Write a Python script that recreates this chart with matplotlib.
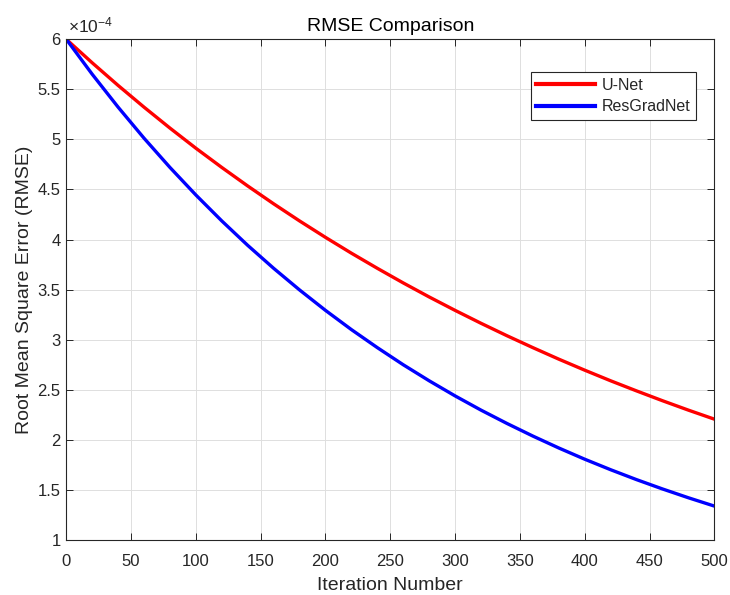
import matplotlib
matplotlib.use("Agg")
import matplotlib.pyplot as plt
from matplotlib.ticker import FormatStrFormatter

plt.rcParams['font.family'] = ['Liberation Sans', 'DejaVu Sans']
plt.rcParams['mathtext.fontset'] = 'custom'
plt.rcParams['mathtext.rm'] = 'Liberation Sans'
plt.rcParams['mathtext.it'] = 'Liberation Sans:italic'

iterations = [0, 20, 40, 60, 80, 100, 120, 140, 160, 180, 200, 220, 240,
              260, 280, 300, 320, 340, 360, 380, 400, 420, 440, 460, 480, 500]
# RMSE values in units of 1e-4
unet = [6.000, 5.765, 5.539, 5.322, 5.113, 4.912, 4.720, 4.535, 4.357,
        4.186, 4.022, 3.864, 3.713, 3.567, 3.427, 3.293, 3.164, 3.040,
        2.921, 2.806, 2.696, 2.590, 2.489, 2.391, 2.297, 2.207]
resgradnet = [6.000, 5.651, 5.322, 5.012, 4.720, 4.445, 4.186, 3.942, 3.713,
              3.497, 3.293, 3.101, 2.921, 2.750, 2.590, 2.439, 2.297, 2.164,
              2.038, 1.919, 1.807, 1.702, 1.603, 1.510, 1.422, 1.339]
xticks = [0, 50, 100, 150, 200, 250, 300, 350, 400, 450, 500]
yticks = [1, 1.5, 2, 2.5, 3, 3.5, 4, 4.5, 5, 5.5, 6]

txt = '#262626'
fig = plt.figure(figsize=(7.3, 5.95), dpi=100)
ax = fig.add_axes([0.0908, 0.0924, 0.8877, 0.8416])

ax.plot(iterations, unet, color='#ff0000', lw=2.4, label='U-Net')
ax.plot(iterations, resgradnet, color='#0000ff', lw=2.4, label='ResGradNet')

ax.set_xlim(0, 500)
ax.set_ylim(1, 6)
ax.set_xticks(xticks)
ax.set_yticks(yticks)
ax.yaxis.set_major_formatter(FormatStrFormatter('%g'))
ax.grid(True, color='#dedede', lw=0.7)
ax.set_axisbelow(True)
ax.tick_params(direction='in', length=5, width=0.7, top=True, right=True,
               labelsize=12, colors=txt)
ax.tick_params(axis='x', pad=10)
ax.tick_params(axis='y', pad=4)
for s in ax.spines.values():
    s.set_color(txt)
    s.set_linewidth(0.8)

ax.set_title('RMSE Comparison', fontsize=14, color='black', pad=6)
ax.set_xlabel('Iteration Number', fontsize=14, color=txt, labelpad=6)
ax.set_ylabel('Root Mean Square Error (RMSE)', fontsize=14, color=txt, labelpad=3)
ax.text(0.002, 1.008, r'$\times10^{-4}$', transform=ax.transAxes,
        fontsize=12.5, color=txt, ha='left', va='bottom')

leg = ax.legend(loc='upper right', bbox_to_anchor=(0.9718, 0.9347), fontsize=11.5,
                frameon=True, fancybox=False, edgecolor=txt, framealpha=1,
                handlelength=3.7, borderpad=0.35, labelspacing=0.42,
                handletextpad=0.4, borderaxespad=0)
leg.get_frame().set_linewidth(0.8)
for line in leg.get_lines():
    line.set_linewidth(3)
for t in leg.get_texts():
    t.set_color(txt)

fig.savefig('out.png', dpi=100)
